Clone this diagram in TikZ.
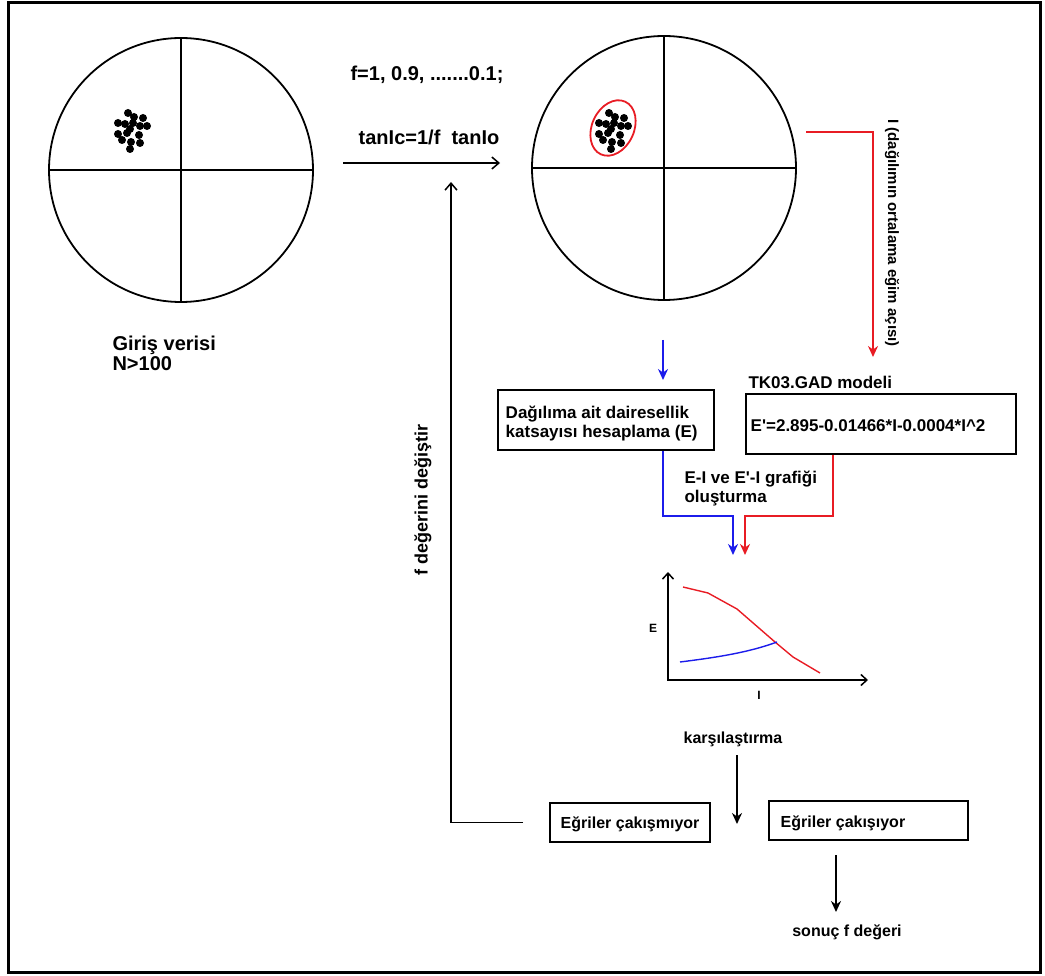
\documentclass[tikz,border=0pt]{standalone}
\usepackage{fontspec}
\setmainfont{Liberation Sans}
\usepackage{tikz}
\usetikzlibrary{arrows.meta}
\definecolor{lred}{RGB}{232,28,36}
\definecolor{lblue}{RGB}{28,28,235}

\begin{document}
\begin{tikzpicture}[x=1pt, y=-1pt,
    stereo/.style={circle, draw, line width=1.8pt, minimum size=264pt, inner sep=0pt, outer sep=0pt},
    box/.style={draw, line width=1.6pt, inner sep=0pt},
    big/.style={font=\bfseries\fontsize{20}{20}\selectfont},
    mid/.style={font=\bfseries\fontsize{17}{19}\selectfont},
    small/.style={font=\bfseries\fontsize{16}{18}\selectfont},
    tiny/.style={font=\bfseries\fontsize{12}{12}\selectfont},
    arr/.style={line width=1.5pt, -{Straight Barb[length=7pt, width=12pt]}},
    sarr/.style={line width=1.8pt, -{Stealth[length=11pt, width=10pt]}}]
    \useasboundingbox (0,0) rectangle (1045,976);
    \draw[line width=3pt] (8.5,2.5) rectangle (1040.5,972.5);

    \node[stereo] (c1) at (181,170) {};
    \node[stereo] (c2) at (664,168) {};
    \draw[line width=1.5pt] (c1.north)--(c1.south) (c1.west)--(c1.east);
    \draw[line width=1.5pt] (c2.north)--(c2.south) (c2.west)--(c2.east);
    \foreach \dx/\dy in {-2/-17, 4/-13, 13/-12, -12/-7, -5/-6, 3/-7, 10/-4, 17/-4,
        0/-1, -12/4, -3/3, 9/5, -8/10, 1/12, 10/13, 0/19}{
        \fill (130+\dx,130+\dy) circle (4);
        \fill (611+\dx,130+\dy) circle (4);
    }
    \draw[lred, line width=1.8pt, rotate around={-25:(613,128)}] (613,128) ellipse [x radius=21, y radius=29];

    \node[big, align=left, anchor=west] (giris) at (109,353) {Giriş verisi\\N>100};
    \node[big] (fval) at (427,75) {f=1, 0.9, .......0.1;};
    \node[big] (tanf) at (429,137) {tanIc=1/f\ \ tanIo};
    \coordinate (h1) at (343,163);
    \coordinate (h2) at (500,163);
    \draw[arr] (h1) -- (h2);

    \node[box, minimum width=160pt, minimum height=39pt] (nomatch) at (630,822.5) {};
    \node[small, anchor=west] (nomatchtxt) at ([xshift=8pt, yshift=-2pt]nomatch.west) {Eğriler çakışmıyor};
    \node[box, minimum width=199pt, minimum height=39pt] (match) at (868.5,820.5) {};
    \node[small, anchor=west] (matchtxt) at ([xshift=9pt, yshift=-3pt]match.west) {Eğriler çakışıyor};
    \coordinate (fb) at (451,182);
    \draw[arr] ([xshift=-26pt]nomatch.west) -| (fb);
    \node[font=\bfseries\fontsize{18}{18}\selectfont, rotate=90] (fchg) at (423,500) {f değerini değiştir};

    \coordinate (r1) at (806,132);
    \coordinate (r2) at (873,357);
    \draw[lred, sarr] (r1) -| (r2);
    \node[font=\bfseries\fontsize{15}{15}\selectfont, rotate=-90] (ilbl) at (892,233) {I (dağılımın ortalama eğim açısı)};

    \coordinate (b1) at (663,340);
    \coordinate (b2) at (663,380);
    \draw[lblue, sarr] (b1) -- (b2);
    \node[box, minimum width=216pt, minimum height=60pt] (calc) at (606,420) {};
    \node[mid, align=left, anchor=west] (calctxt) at ([xshift=5pt, yshift=-4pt]calc.west) {Dağılıma ait dairesellik\\katsayısı hesaplama (E)};
    \node[mid, anchor=west] (tklbl) at (745,382) {TK03.GAD modeli};
    \node[box, minimum width=270pt, minimum height=60pt] (tk) at (881,424) {};
    \node[mid, anchor=west] (tktxt) at ([xshift=2pt, yshift=-2pt]tk.west) {E\textquotesingle=2.895-0.01466*I-0.0004*I\^{}2};

    \coordinate (bt) at (733,555);
    \coordinate (rt) at (745,555);
    \draw[lblue, sarr] ([xshift=57pt]calc.south) |- ([yshift=39pt]bt) -- (bt);
    \draw[lred, sarr] ([xshift=-48pt]tk.south) |- ([yshift=39pt]rt) -- (rt);
    \node[mid, align=left, anchor=west] (grlbl) at (681,489) {E-I ve E\textquotesingle-I grafiği\\oluşturma};

    \coordinate (ytip) at (668,572);
    \coordinate (xtip) at (868,680);
    \draw[line width=1.5pt, {Straight Barb[length=6pt, width=11pt]}-{Straight Barb[length=6pt, width=11pt]}] (ytip) |- (xtip);
    \draw[lred, line width=1.4pt] (683,587) -- (708,593) -- (737,609) -- (775,642) -- (793,657) -- (820,673);
    \draw[lblue, line width=1.4pt] (680,662) .. controls (720,657) and (750,652) .. (777,642);
    \node[tiny] (eax) at (653,628) {E};
    \node[tiny] (iax) at (759,695) {I};

    \node[small] (cmp) at (733,739) {karşılaştırma};
    \coordinate (d1) at (737,755);
    \coordinate (d2) at (737,824);
    \draw[sarr] (d1) -- (d2);
    \coordinate (s1) at (836,855);
    \coordinate (s2) at (836,912);
    \draw[sarr] (s1) -- (s2);
    \node[small] (res) at (847,932) {sonuç f değeri};
\end{tikzpicture}
\end{document}
